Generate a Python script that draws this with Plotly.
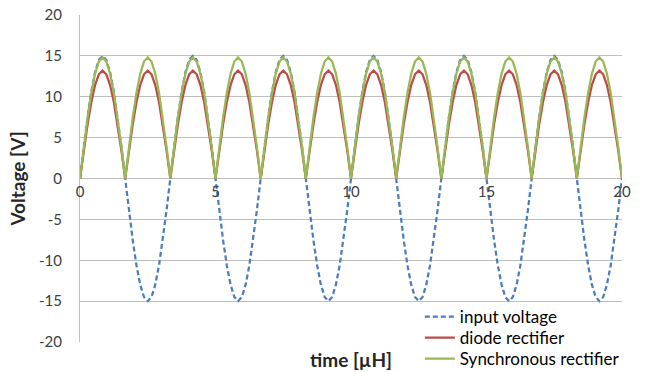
import plotly.graph_objects as go

# time in microseconds, sampled every 1/24 of the 3.333 us period
time_us = [
    0.000, 0.139, 0.278, 0.417, 0.556, 0.694, 0.833, 0.972, 1.111, 1.250, 1.389, 1.528,
    1.667, 1.806, 1.944, 2.083, 2.222, 2.361, 2.500, 2.639, 2.778, 2.917, 3.056, 3.194,
    3.333, 3.472, 3.611, 3.750, 3.889, 4.028, 4.167, 4.306, 4.444, 4.583, 4.722, 4.861,
    5.000, 5.139, 5.278, 5.417, 5.556, 5.694, 5.833, 5.972, 6.111, 6.250, 6.389, 6.528,
    6.667, 6.806, 6.944, 7.083, 7.222, 7.361, 7.500, 7.639, 7.778, 7.917, 8.056, 8.194,
    8.333, 8.472, 8.611, 8.750, 8.889, 9.028, 9.167, 9.306, 9.444, 9.583, 9.722, 9.861,
    10.000, 10.139, 10.278, 10.417, 10.556, 10.694, 10.833, 10.972, 11.111, 11.250, 11.389, 11.528,
    11.667, 11.806, 11.944, 12.083, 12.222, 12.361, 12.500, 12.639, 12.778, 12.917, 13.056, 13.194,
    13.333, 13.472, 13.611, 13.750, 13.889, 14.028, 14.167, 14.306, 14.444, 14.583, 14.722, 14.861,
    15.000, 15.139, 15.278, 15.417, 15.556, 15.694, 15.833, 15.972, 16.111, 16.250, 16.389, 16.528,
    16.667, 16.806, 16.944, 17.083, 17.222, 17.361, 17.500, 17.639, 17.778, 17.917, 18.056, 18.194,
    18.333, 18.472, 18.611, 18.750, 18.889, 19.028, 19.167, 19.306, 19.444, 19.583, 19.722, 19.861,
    20.000,
]

input_voltage = [
    0, 3.88, 7.5, 10.61, 12.99, 14.49, 15.0, 14.49, 12.99, 10.61, 7.5, 3.88,
    0, -3.88, -7.5, -10.61, -12.99, -14.49, -15.0, -14.49, -12.99, -10.61, -7.5, -3.88,
    0, 3.88, 7.5, 10.61, 12.99, 14.49, 15.0, 14.49, 12.99, 10.61, 7.5, 3.88,
    0, -3.88, -7.5, -10.61, -12.99, -14.49, -15.0, -14.49, -12.99, -10.61, -7.5, -3.88,
    0, 3.88, 7.5, 10.61, 12.99, 14.49, 15.0, 14.49, 12.99, 10.61, 7.5, 3.88,
    0, -3.88, -7.5, -10.61, -12.99, -14.49, -15.0, -14.49, -12.99, -10.61, -7.5, -3.88,
    0, 3.88, 7.5, 10.61, 12.99, 14.49, 15.0, 14.49, 12.99, 10.61, 7.5, 3.88,
    0, -3.88, -7.5, -10.61, -12.99, -14.49, -15.0, -14.49, -12.99, -10.61, -7.5, -3.88,
    0, 3.88, 7.5, 10.61, 12.99, 14.49, 15.0, 14.49, 12.99, 10.61, 7.5, 3.88,
    0, -3.88, -7.5, -10.61, -12.99, -14.49, -15.0, -14.49, -12.99, -10.61, -7.5, -3.88,
    0, 3.88, 7.5, 10.61, 12.99, 14.49, 15.0, 14.49, 12.99, 10.61, 7.5, 3.88,
    0, -3.88, -7.5, -10.61, -12.99, -14.49, -15.0, -14.49, -12.99, -10.61, -7.5, -3.88,
    0,
]

diode_rectifier = [
    0, 3.42, 6.6, 9.33, 11.43, 12.75, 13.2, 12.75, 11.43, 9.33, 6.6, 3.42,
    0, 3.42, 6.6, 9.33, 11.43, 12.75, 13.2, 12.75, 11.43, 9.33, 6.6, 3.42,
    0, 3.42, 6.6, 9.33, 11.43, 12.75, 13.2, 12.75, 11.43, 9.33, 6.6, 3.42,
    0, 3.42, 6.6, 9.33, 11.43, 12.75, 13.2, 12.75, 11.43, 9.33, 6.6, 3.42,
    0, 3.42, 6.6, 9.33, 11.43, 12.75, 13.2, 12.75, 11.43, 9.33, 6.6, 3.42,
    0, 3.42, 6.6, 9.33, 11.43, 12.75, 13.2, 12.75, 11.43, 9.33, 6.6, 3.42,
    0, 3.42, 6.6, 9.33, 11.43, 12.75, 13.2, 12.75, 11.43, 9.33, 6.6, 3.42,
    0, 3.42, 6.6, 9.33, 11.43, 12.75, 13.2, 12.75, 11.43, 9.33, 6.6, 3.42,
    0, 3.42, 6.6, 9.33, 11.43, 12.75, 13.2, 12.75, 11.43, 9.33, 6.6, 3.42,
    0, 3.42, 6.6, 9.33, 11.43, 12.75, 13.2, 12.75, 11.43, 9.33, 6.6, 3.42,
    0, 3.42, 6.6, 9.33, 11.43, 12.75, 13.2, 12.75, 11.43, 9.33, 6.6, 3.42,
    0, 3.42, 6.6, 9.33, 11.43, 12.75, 13.2, 12.75, 11.43, 9.33, 6.6, 3.42,
    0,
]

synchronous_rectifier = [
    0, 3.83, 7.4, 10.47, 12.82, 14.3, 14.8, 14.3, 12.82, 10.47, 7.4, 3.83,
    0, 3.83, 7.4, 10.47, 12.82, 14.3, 14.8, 14.3, 12.82, 10.47, 7.4, 3.83,
    0, 3.83, 7.4, 10.47, 12.82, 14.3, 14.8, 14.3, 12.82, 10.47, 7.4, 3.83,
    0, 3.83, 7.4, 10.47, 12.82, 14.3, 14.8, 14.3, 12.82, 10.47, 7.4, 3.83,
    0, 3.83, 7.4, 10.47, 12.82, 14.3, 14.8, 14.3, 12.82, 10.47, 7.4, 3.83,
    0, 3.83, 7.4, 10.47, 12.82, 14.3, 14.8, 14.3, 12.82, 10.47, 7.4, 3.83,
    0, 3.83, 7.4, 10.47, 12.82, 14.3, 14.8, 14.3, 12.82, 10.47, 7.4, 3.83,
    0, 3.83, 7.4, 10.47, 12.82, 14.3, 14.8, 14.3, 12.82, 10.47, 7.4, 3.83,
    0, 3.83, 7.4, 10.47, 12.82, 14.3, 14.8, 14.3, 12.82, 10.47, 7.4, 3.83,
    0, 3.83, 7.4, 10.47, 12.82, 14.3, 14.8, 14.3, 12.82, 10.47, 7.4, 3.83,
    0, 3.83, 7.4, 10.47, 12.82, 14.3, 14.8, 14.3, 12.82, 10.47, 7.4, 3.83,
    0, 3.83, 7.4, 10.47, 12.82, 14.3, 14.8, 14.3, 12.82, 10.47, 7.4, 3.83,
    0,
]

x_ticks = [0, 5, 10, 15, 20]
y_ticks = [-20, -15, -10, -5, 0, 5, 10, 15, 20]

FONT = "Lato"

fig = go.Figure()
fig.add_trace(go.Scatter(x=time_us, y=input_voltage, mode="lines", name="input voltage",
                         legend="legend",
                         line=dict(color="#4a7ebb", width=2.25, dash="5px,3px")))
fig.add_trace(go.Scatter(x=time_us, y=diode_rectifier, mode="lines", name="diode rectifier",
                         legend="legend2",
                         line=dict(color="#be4b48", width=2.25)))
fig.add_trace(go.Scatter(x=time_us, y=synchronous_rectifier, mode="lines", name="Synchronous rectifier",
                         legend="legend3",
                         line=dict(color="#98b954", width=2.25)))

legend_style = dict(x=0.627, xanchor="left", yanchor="middle", bgcolor="rgba(0,0,0,0)",
                    borderwidth=0, font=dict(family=FONT, size=17, color="#000000"), itemwidth=30)

fig.update_layout(
    width=646, height=372,
    margin=dict(l=80, r=24, t=15, b=30, autoexpand=False),
    paper_bgcolor="white", plot_bgcolor="white",
    font=dict(family=FONT, size=15, color="#404040"),
    showlegend=True,
    legend=dict(y=0.0765, **legend_style),
    legend2=dict(y=0.0122, **legend_style),
    legend3=dict(y=-0.052, **legend_style),
    xaxis=dict(range=[0, 20], tickvals=x_ticks, ticktext=[str(v) for v in x_ticks],
               anchor="free", position=0.5, showgrid=False, zeroline=False,
               showline=False, ticks="", ticklabelstandoff=2, automargin=False,
               tickfont=dict(family=FONT, size=15, color="#404040")),
    yaxis=dict(range=[-20, 20], tickvals=y_ticks, ticktext=[str(v) for v in y_ticks],
               showgrid=True, gridcolor="#bfbfbf", gridwidth=1,
               zeroline=True, zerolinecolor="#bfbfbf", zerolinewidth=1,
               showline=True, linecolor="#bfbfbf", linewidth=1, ticks="",
               ticklabelstandoff=14, automargin=False,
               tickfont=dict(family=FONT, size=15, color="#404040"),
               title=dict(text="<b>Voltage [V]</b>", font=dict(family=FONT, size=19, color="#262626"),
                          standoff=8)),
)

# white legend backing that hides the bottom gridline behind the legend block
fig.add_shape(type="rect", xref="paper", yref="paper", x0=0.643, x1=1.01, y0=-0.012, y1=0.012,
              fillcolor="white", line=dict(width=0), layer="between")

fig.add_annotation(text="<b>time [µH]</b>", xref="paper", yref="paper",
                   x=0.5, y=0, yshift=-17, yanchor="middle", showarrow=False,
                   font=dict(family=FONT, size=19, color="#262626"))

fig.write_html("out.html")
